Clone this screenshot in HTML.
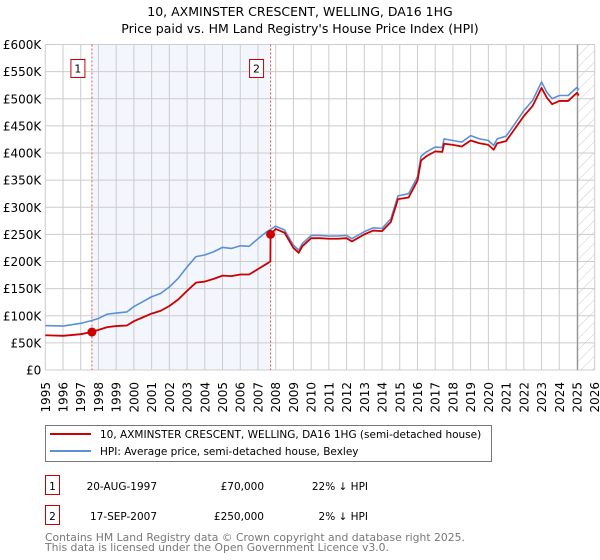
<!DOCTYPE html>
<html><head><meta charset="utf-8"><style>
body{margin:0;background:#fff;font-family:"DejaVu Sans","Liberation Sans",sans-serif;}
#wrap{position:relative;width:600px;height:560px;overflow:hidden}
svg text{font-family:"DejaVu Sans","Liberation Sans",sans-serif}
</style></head><body><div id="wrap">
<svg id="chart" width="600" height="560"></svg>
</div>
<script>
const yearTicks=[1995,1996,1997,1998,1999,2000,2001,2002,2003,2004,2005,2006,2007,2008,2009,2010,2011,2012,2013,2014,2015,2016,2017,2018,2019,2020,2021,2022,2023,2024,2025,2026];
const valueTicks=[0,50,100,150,200,250,300,350,400,450,500,550,600];
const valueLabels=["£0","£50K","£100K","£150K","£200K","£250K","£300K","£350K","£400K","£450K","£500K","£550K","£600K"];
const hpiYears=[1995,1996,1997,1997.6,1998,1998.5,1999,1999.6,2000,2000.5,2001,2001.5,2002,2002.5,2003,2003.5,2004,2004.5,2005,2005.5,2006,2006.5,2007,2007.5,2008,2008.5,2009,2009.3,2009.5,2010,2010.5,2011,2011.5,2012,2012.3,2013,2013.5,2014,2014.5,2014.9,2015.5,2016,2016.2,2016.5,2017,2017.4,2017.5,2018,2018.5,2019,2019.5,2020,2020.3,2020.5,2021,2021.5,2022,2022.5,2023,2023.3,2023.6,2024,2024.5,2025,2025.1];
const hpiValues=[82,81,86,91,95,103,105,107,117,126,135,141,153,169,190,209,212,218,226,224,229,228,242,255,265,258,230,221,233,248,248,247,247,248,242,255,262,261,279,321,325,356,394,402,411,410,426,423,420,432,426,423,414,426,431,454,478,497,531,512,500,506,506,521,516];
const priceYears=[1995,1996,1997,1997.63,1998,1998.5,1999,1999.6,2000,2000.5,2001,2001.5,2002,2002.5,2003,2003.5,2004,2004.5,2005,2005.5,2006,2006.5,2007,2007.5,2007.7,2007.71,2008,2008.5,2009,2009.3,2009.5,2010,2010.5,2011,2011.5,2012,2012.3,2013,2013.5,2014,2014.5,2014.9,2015.5,2016,2016.2,2016.5,2017,2017.4,2017.5,2018,2018.5,2019,2019.5,2020,2020.3,2020.5,2021,2021.5,2022,2022.5,2023,2023.3,2023.6,2024,2024.5,2025,2025.1];
const priceValues=[64,63,66,70,74,79,81,82,90,97,104,109,118,130,146,161,163,168,174,173,176,176,186,196,200,250,260,253,225,216,228,243,243,242,242,243,237,250,257,256,273,315,318,349,386,394,403,402,417,415,412,423,418,415,406,418,422,445,468,487,520,502,490,496,496,511,506];
const sales=[{n:"1",year:1997.63,value:70},{n:"2",year:2007.71,value:250}];

const NS="http://www.w3.org/2000/svg";
const svg=document.getElementById('chart');
const L=45.3,R=594.7,T=44.5,B=370;
const x=y=>L+(y-1995)*(R-L)/31;
const yv=v=>B-v*(B-T)/600;
function mk(tag,attrs,parent){const e=document.createElementNS(NS,tag);for(const k in attrs)e.setAttribute(k,attrs[k]);(parent||svg).appendChild(e);return e;}

let t=mk('text',{x:300,y:16,'text-anchor':'middle','font-size':12.5,fill:'#000'});t.textContent="10, AXMINSTER CRESCENT, WELLING, DA16 1HG";


t=mk('text',{x:300,y:33,'text-anchor':'middle','font-size':12.5,fill:'#000'});t.textContent="Price paid vs. HM Land Registry's House Price Index (HPI)";



let sh=mk('rect',{x:x(sales[0].year),y:T,width:x(sales[1].year)-x(sales[0].year),height:B-T,fill:'#f3f6fd'});


const defs=mk('defs',{});
const pat=mk('pattern',{id:'hatch',width:8,height:8,patternUnits:'userSpaceOnUse',patternTransform:'rotate(45)'},defs);
mk('line',{x1:0,y1:0,x2:0,y2:8,stroke:'#ccc','stroke-width':1},pat);
let hr=mk('rect',{x:x(2025.04),y:T,width:R-x(2025.04),height:B-T,fill:'url(#hatch)'});



yearTicks.forEach(yr=>{let g=mk('line',{x1:x(yr),x2:x(yr),y1:T,y2:B,stroke:'#cccccc','stroke-width':1});


let lb=mk('text',{transform:`translate(${x(yr)+4.5},${B+12}) rotate(-90)`,'text-anchor':'end','font-size':12,fill:'#000'});lb.textContent=yr;

});
valueTicks.forEach((v,i)=>{let g=mk('line',{x1:L,x2:R,y1:yv(v),y2:yv(v),stroke:'#cccccc','stroke-width':1});


let lb=mk('text',{x:L-4,y:yv(v)+4.5,'text-anchor':'end','font-size':12,fill:'#000'});lb.textContent=valueLabels[i];

});
let dl=mk('line',{x1:x(2025.04),x2:x(2025.04),y1:T,y2:B,stroke:'#888','stroke-width':1});



sales.forEach(s=>{let l=mk('line',{x1:x(s.year),x2:x(s.year),y1:T,y2:B,stroke:'#e05050','stroke-width':1,'stroke-dasharray':'2,2'});


let bx=x(s.year)-21;
let r=mk('rect',{x:bx,y:59.5,width:14,height:18,fill:'#fff',stroke:'#cc0000','stroke-width':1});


let tx=mk('text',{x:bx+7,y:72.5,'text-anchor':'middle','font-size':11,fill:'#000'});tx.textContent=s.n;

});

let hp=mk('polyline',{points:hpiYears.map((yr,i)=>x(yr)+','+yv(hpiValues[i])).join(' '),fill:'none',stroke:'#5b8fd6','stroke-width':1.6,'stroke-linejoin':'round'});


let pp=mk('polyline',{points:priceYears.map((yr,i)=>x(yr)+','+yv(priceValues[i])).join(' '),fill:'none',stroke:'#cc0000','stroke-width':1.8,'stroke-linejoin':'round'});


sales.forEach(s=>{let c=mk('circle',{cx:x(s.year),cy:yv(s.value),r:4.5,fill:'#cc0000'});

});

let lg=mk('rect',{x:45.5,y:425.5,width:446,height:36,fill:'#fff',stroke:'#777','stroke-width':1});


let l1=mk('line',{x1:50,x2:91,y1:434,y2:434,stroke:'#cc0000','stroke-width':2});


let lt=mk('text',{x:100,y:438,'font-size':10.5,fill:'#000'});lt.textContent="10, AXMINSTER CRESCENT, WELLING, DA16 1HG (semi-detached house)";


let l2=mk('line',{x1:50,x2:91,y1:451,y2:451,stroke:'#5b8fd6','stroke-width':2});


lt=mk('text',{x:100,y:455,'font-size':10.5,fill:'#000'});lt.textContent="HPI: Average price, semi-detached house, Bexley";



const rows=[["1","20-AUG-1997","£70,000","22% ↓ HPI",483],["2","17-SEP-2007","£250,000","2% ↓ HPI",513]];
rows.forEach(r=>{let b=mk('rect',{x:45.5,y:r[4]-7.5,width:14,height:19,fill:'#fff',stroke:'#cc0000','stroke-width':1});


let a=mk('text',{x:52.5,y:r[4]+7,'text-anchor':'middle','font-size':10.5,fill:'#000'});a.textContent=r[0];


a=mk('text',{x:157,y:r[4]+7,'text-anchor':'end','font-size':10.5,fill:'#000'});a.textContent=r[1];


a=mk('text',{x:264,y:r[4]+7,'text-anchor':'end','font-size':10.5,fill:'#000'});a.textContent=r[2];


a=mk('text',{x:368,y:r[4]+7,'text-anchor':'end','font-size':10.5,fill:'#000'});a.textContent=r[3];

});

let f=mk('text',{x:45,y:541,'font-size':10.8,fill:'#777'});f.textContent="Contains HM Land Registry data © Crown copyright and database right 2025.";


f=mk('text',{x:45,y:551,'font-size':10.8,fill:'#777'});f.textContent="This data is licensed under the Open Government Licence v3.0.";


</script></body></html>
